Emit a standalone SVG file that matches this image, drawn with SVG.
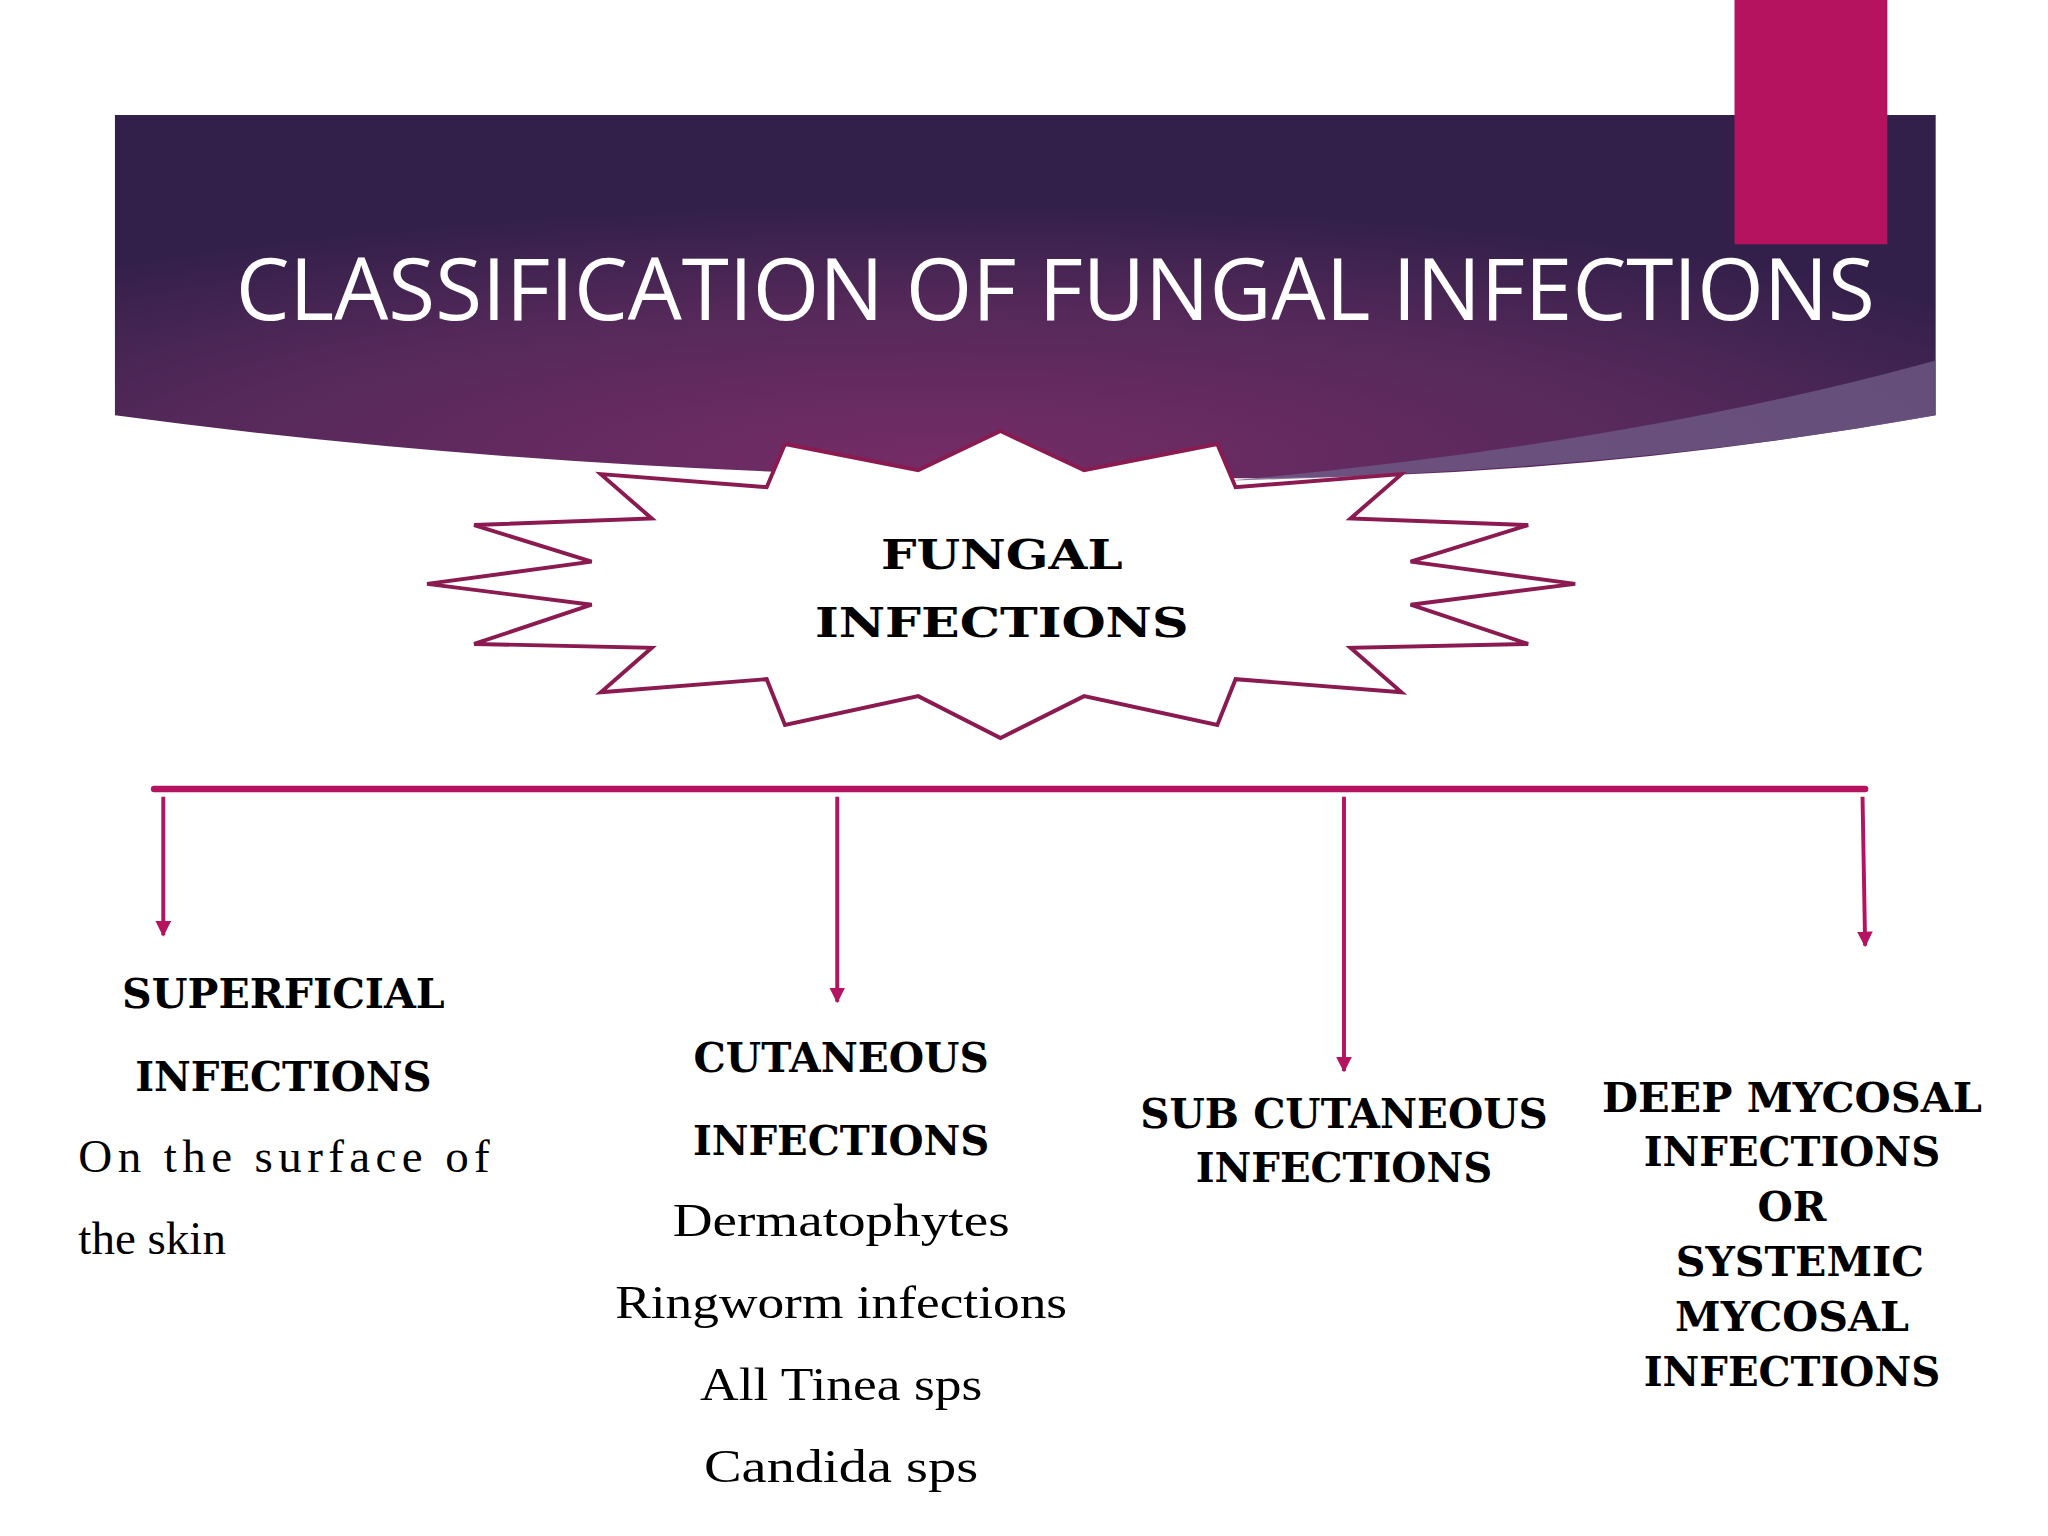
<svg xmlns="http://www.w3.org/2000/svg" width="2048" height="1536" viewBox="0 0 2048 1536">
<defs>
<radialGradient id="bg" cx="0.45" cy="0.95" r="0.7">
<stop offset="0" stop-color="#742c66"/>
<stop offset="0.6" stop-color="#55295a"/>
<stop offset="1" stop-color="#33204a"/>
</radialGradient>
<marker id="ah" viewBox="0 0 10 10" refX="9" refY="5" markerWidth="4" markerHeight="4" orient="auto" markerUnits="strokeWidth">
<path d="M0,0 L10,5 L0,10 z" fill="#b5135f"/>
</marker>
<style>
.b{font-family:"DejaVu Serif","Liberation Serif",serif;font-weight:bold;font-size:31px;fill:#000;text-anchor:middle}
.r{font-family:"Liberation Serif",serif;font-size:36px;fill:#000}
.c{text-anchor:middle}
.arr{stroke:#b5135f;stroke-width:3;fill:none;marker-end:url(#ah)}
</style>
</defs>
<rect width="2048" height="1536" fill="#fff"/>
<g transform="scale(1.30612)">
<g id="banner">
<path d="M88,88 H1482 V318 Q1200,368 930,366 L760,366 Q400,360 88,318 Z" fill="url(#bg)"/>
<path d="M940,368 Q1250,340 1482,276 V318 Q1250,360 940,368 Z" fill="#6e5a84" opacity="0.8"/>
<rect x="1328" y="0" width="117" height="187" fill="#b5135f"/>
<text x="808" y="245" fill="#fff" font-family="'Open Sans','DejaVu Sans',sans-serif" font-size="66" text-anchor="middle" textLength="1255" lengthAdjust="spacingAndGlyphs">CLASSIFICATION OF FUNGAL INFECTIONS</text>
</g>
<g id="root">
<polygon points="766,330 830,360 932,340 946,373 1073,363 1034,397 1170,402 1080,430 1206,447 1080,463 1170,493 1034,496 1073,530 946,520 932,555 830,533 766,565 703,533 601,555 587,520 460,530 499,496 363,493 453,463 327,447 453,430 363,402 499,397 460,363 587,373 601,340 703,360" fill="#fff" stroke="#8b1a50" stroke-width="3"/>
<text class="b" x="767" y="436" font-size="40" textLength="185" lengthAdjust="spacingAndGlyphs">FUNGAL</text>
<text class="b" x="767" y="488" font-size="40" textLength="286" lengthAdjust="spacingAndGlyphs">INFECTIONS</text>
</g>
<g id="connectors">
<line x1="118" y1="604" x2="1428" y2="604" stroke="#b5135f" stroke-width="5" stroke-linecap="round"/>
<line class="arr" x1="125" y1="610" x2="125" y2="716"/>
<line class="arr" x1="641" y1="610" x2="641" y2="767"/>
<line class="arr" x1="1029" y1="610" x2="1029" y2="820"/>
<line class="arr" x1="1426" y1="610" x2="1428" y2="724"/>
</g>
<g id="superficial">
<text class="b" x="217" y="772" textLength="247" lengthAdjust="spacingAndGlyphs">SUPERFICIAL</text>
<text class="b" x="217" y="835" textLength="227" lengthAdjust="spacingAndGlyphs">INFECTIONS</text>
<text class="r" x="60" y="897" textLength="315" lengthAdjust="spacing">On the surface of</text>
<text class="r" x="60" y="960">the skin</text>
</g>
<g id="cutaneous">
<text class="b" x="644" y="821" textLength="226" lengthAdjust="spacingAndGlyphs">CUTANEOUS</text>
<text class="b" x="644" y="884" textLength="227" lengthAdjust="spacingAndGlyphs">INFECTIONS</text>
<text class="r c" x="644" y="946" textLength="258" lengthAdjust="spacingAndGlyphs">Dermatophytes</text>
<text class="r c" x="644" y="1009" textLength="346" lengthAdjust="spacingAndGlyphs">Ringworm infections</text>
<text class="r c" x="644" y="1072" textLength="216" lengthAdjust="spacingAndGlyphs">All Tinea sps</text>
<text class="r c" x="644" y="1135" textLength="210" lengthAdjust="spacingAndGlyphs">Candida sps</text>
</g>
<g id="subcutaneous">
<text class="b" x="1029" y="864" textLength="312" lengthAdjust="spacingAndGlyphs">SUB CUTANEOUS</text>
<text class="b" x="1029" y="905" textLength="227" lengthAdjust="spacingAndGlyphs">INFECTIONS</text>
</g>
<g id="deep">
<text class="b" x="1372" y="851" textLength="291" lengthAdjust="spacingAndGlyphs">DEEP MYCOSAL</text>
<text class="b" x="1372" y="893" textLength="227" lengthAdjust="spacingAndGlyphs">INFECTIONS</text>
<text class="b" x="1372" y="935">OR</text>
<text class="b" x="1378" y="977" textLength="190" lengthAdjust="spacingAndGlyphs">SYSTEMIC</text>
<text class="b" x="1372" y="1019" textLength="179" lengthAdjust="spacingAndGlyphs">MYCOSAL</text>
<text class="b" x="1372" y="1061" textLength="227" lengthAdjust="spacingAndGlyphs">INFECTIONS</text>
</g>
</g>
</svg>
